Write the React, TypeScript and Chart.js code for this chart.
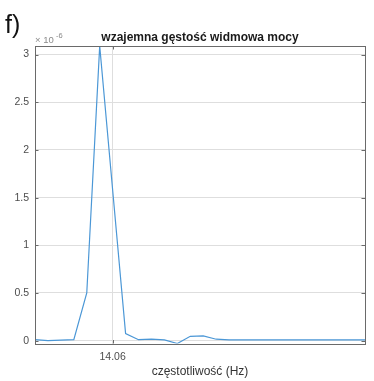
import React, { useEffect, useRef } from "react";
import { Chart, registerables } from "chart.js";

Chart.register(...registerables);

// frequency (Hz)
const freqs = [
  14.0, 14.01, 14.02, 14.03, 14.04, 14.05, 14.06, 14.07, 14.08, 14.09,
  14.1, 14.11, 14.12, 14.13, 14.14, 14.15, 14.16, 14.17, 14.18, 14.19,
  14.2, 14.21, 14.22, 14.23, 14.24, 14.25, 14.26,
];
// cross power spectral density (×1e-6)
const psd = [
  0.01, 0.0, 0.005, 0.01, 0.5, 3.09, 1.58, 0.075, 0.01, 0.015,
  0.008, -0.03, 0.045, 0.05, 0.015, 0.008, 0.008, 0.008, 0.008, 0.008,
  0.008, 0.008, 0.008, 0.008, 0.008, 0.008, 0.008,
];
const xTicks = [14.06];
const yTicks = [0, 0.5, 1, 1.5, 2, 2.5, 3];
const title = "wzajemna gęstość widmowa mocy";
const xLabel = "częstotliwość (Hz)";
const panelLabel = "f)";

const FONT = "'Liberation Sans', Arial, Helvetica, sans-serif";
const AXIS = "#6a6a6a";
const TEXT = "#4d4d4d";

export default function App() {
  const ref = useRef<HTMLCanvasElement | null>(null);
  useEffect(() => {
    document.body.style.margin = "0";
    const canvas = ref.current!;
    const decor = {
      id: "decor",
      afterDatasetsDraw(chart: any) {
        const { ctx, chartArea: a, scales } = chart;
        ctx.save();
        // box
        ctx.strokeStyle = AXIS;
        ctx.lineWidth = 1;
        ctx.strokeRect(Math.round(a.left) + 0.5, Math.round(a.top) + 0.5, Math.round(a.right - a.left), Math.round(a.bottom - a.top));
        // inward ticks
        const tl = 3.5;
        ctx.beginPath();
        for (const v of yTicks) {
          const y = Math.round(scales.y.getPixelForValue(v)) + 0.5;
          ctx.moveTo(a.left, y); ctx.lineTo(a.left + tl, y);
          ctx.moveTo(a.right, y); ctx.lineTo(a.right - tl, y);
        }
        for (const v of xTicks) {
          const x = Math.round(scales.x.getPixelForValue(v)) + 0.5;
          ctx.moveTo(x, a.bottom); ctx.lineTo(x, a.bottom - tl);
          ctx.moveTo(x, a.top); ctx.lineTo(x, a.top + tl);
        }
        ctx.stroke();
        // title
        ctx.fillStyle = "#1a1a1a";
        ctx.font = `bold 12px ${FONT}`;
        ctx.textAlign = "center";
        ctx.textBaseline = "middle";
        ctx.fillText(title, (a.left + a.right) / 2, 38);
        // x label
        ctx.fillStyle = "#333";
        ctx.font = `12px ${FONT}`;
        ctx.fillText(xLabel, (a.left + a.right) / 2, 372);
        // exponent
        ctx.fillStyle = "#8a8a8a";
        ctx.textAlign = "left";
        ctx.font = `9.5px ${FONT}`;
        ctx.fillText("× 10", 35, 40);
        ctx.font = `7.5px ${FONT}`;
        ctx.fillText("-6", 56, 36);
        // panel label
        ctx.fillStyle = "#111";
        ctx.font = `25px ${FONT}`;
        ctx.textBaseline = "alphabetic";
        ctx.fillText(panelLabel, 5, 33);
        ctx.restore();
      },
    };
    const chart = new Chart(canvas, {
      type: "line",
      data: {
        datasets: [
          {
            data: freqs.map((f, i) => ({ x: f, y: psd[i] })),
            borderColor: "#4b97d6",
            borderWidth: 1.2,
            pointRadius: 0,
            tension: 0,
            fill: false,
          },
        ],
      },
      options: {
        animation: false,
        responsive: false,
        maintainAspectRatio: false,
        events: [],
        layout: { padding: { left: 0, right: 9, top: 46, bottom: 0 } },
        plugins: { legend: { display: false }, tooltip: { enabled: false }, title: { display: false } },
        scales: {
          x: {
            type: "linear",
            min: 14.0,
            max: 14.255,
            border: { display: false },
            afterBuildTicks: (s: any) => { s.ticks = xTicks.map((v) => ({ value: v })); },
            afterFit: (s: any) => { s.height = 37.5; },
            grid: { color: "#dedede", drawTicks: false, lineWidth: 1 },
            ticks: {
              padding: 7,
              color: TEXT,
              font: { family: FONT, size: 10.5 },
              callback: (v: any) => Number(v).toFixed(2),
              maxRotation: 0,
            },
          },
          y: {
            type: "linear",
            min: -0.03,
            max: 3.09,
            border: { display: false },
            afterBuildTicks: (s: any) => { s.ticks = yTicks.map((v) => ({ value: v })); },
            afterFit: (s: any) => { s.width = 35; },
            grid: { color: "#dedede", drawTicks: false, lineWidth: 1 },
            ticks: {
              padding: 6,
              color: TEXT,
              font: { family: FONT, size: 10.5 },
              callback: (v: any) => String(v),
            },
          },
        },
      },
      plugins: [decor],
    });
    return () => chart.destroy();
  }, []);
  return (
    <div style={{ position: "absolute", left: 0, top: 0, width: 374, height: 381, background: "#fff" }}>
      <canvas ref={ref} width={374} height={381} style={{ width: 374, height: 381, display: "block" }} />
    </div>
  );
}
